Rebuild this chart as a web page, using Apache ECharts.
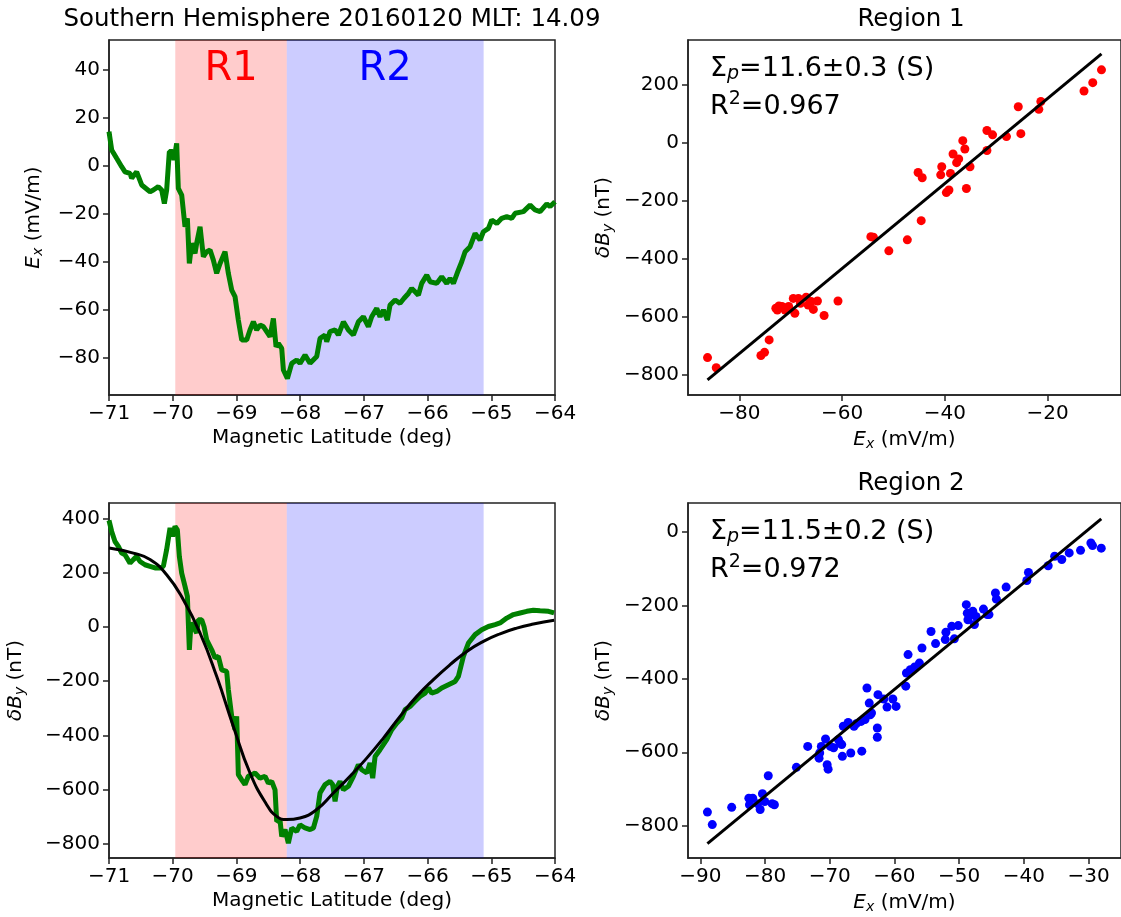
<!DOCTYPE html>
<html><head><meta charset="utf-8">
<script src="https://cdn.jsdelivr.net/npm/echarts@6/dist/echarts.min.js"></script>
<style>html,body{margin:0;padding:0;background:#fff}#c{width:1121px;height:917px}</style>
</head><body><div id="c"></div>
<script>
// ---------- data ----------
const regionBounds = [-69.96, -68.21, -65.12];
const regionNames = ['R1', 'R2'];

const exLat = [-71.000,-70.958,-70.880,-70.801,-70.749,-70.670,-70.644,-70.566,-70.487,-70.356,
-70.304,-70.226,-70.173,-70.131,-70.095,-70.053,-70.001,-69.980,-69.938,-69.912,
-69.859,-69.807,-69.770,-69.739,-69.702,-69.650,-69.624,-69.571,-69.519,-69.467,
-69.414,-69.362,-69.310,-69.257,-69.179,-69.127,-69.074,-69.022,-68.970,-68.917,
-68.839,-68.787,-68.734,-68.682,-68.630,-68.577,-68.525,-68.473,-68.420,-68.378,
-68.342,-68.289,-68.263,-68.200,-68.132,-68.054,-68.002,-67.923,-67.845,-67.740,
-67.688,-67.609,-67.583,-67.531,-67.452,-67.400,-67.321,-67.243,-67.164,-67.086,
-67.007,-66.929,-66.877,-66.798,-66.746,-66.693,-66.631,-66.589,-66.510,-66.432,
-66.369,-66.301,-66.249,-66.196,-66.144,-66.092,-66.013,-65.961,-65.856,-65.778,
-65.699,-65.647,-65.594,-65.516,-65.464,-65.411,-65.333,-65.254,-65.176,-65.124,
-65.045,-64.993,-64.914,-64.836,-64.757,-64.679,-64.626,-64.496,-64.391,-64.312,
-64.234,-64.129,-64.077,-64.000];
const exValues = [14.3,6.7,3.2,-0.3,-2.4,-3.1,-5.1,-2.4,-7.9,-10.7,
-10.0,-8.6,-10.0,-15.6,-10.0,6.0,6.0,2.5,9.4,-9.3,
-12.1,-25.3,-21.8,-40.6,-32.2,-36.4,-32.2,-25.3,-37.8,-35.7,
-35.0,-39.2,-44.7,-40.6,-35.7,-44.7,-51.7,-54.4,-64.2,-72.5,
-72.5,-68.3,-64.9,-68.3,-66.3,-66.9,-69.0,-71.1,-63.5,-75.3,
-73.9,-76.0,-85.0,-88.5,-82.2,-80.8,-82.2,-78.8,-82.2,-79.4,
-71.8,-70.4,-73.2,-69.0,-68.3,-70.4,-64.9,-68.3,-70.4,-64.9,
-62.8,-66.9,-62.8,-59.3,-62.8,-60.0,-64.2,-57.9,-55.8,-57.2,
-55.1,-53.1,-51.0,-52.4,-53.8,-48.9,-45.4,-48.2,-48.9,-46.1,
-48.9,-46.8,-48.9,-43.3,-39.9,-35.7,-33.6,-28.1,-30.8,-27.4,
-26.0,-22.5,-23.9,-21.8,-21.1,-21.8,-19.7,-19.0,-16.3,-18.3,
-19.0,-15.8,-16.9,-14.9];

const byLat = [-71.000,-70.958,-70.906,-70.853,-70.801,-70.749,-70.670,-70.618,-70.566,-70.513,
-70.435,-70.356,-70.278,-70.199,-70.147,-70.095,-70.042,-70.001,-69.964,-69.927,
-69.896,-69.859,-69.807,-69.770,-69.739,-69.713,-69.676,-69.624,-69.598,-69.545,
-69.509,-69.467,-69.388,-69.336,-69.284,-69.231,-69.153,-69.127,-69.074,-69.022,
-68.996,-68.970,-68.917,-68.865,-68.813,-68.760,-68.708,-68.630,-68.551,-68.499,
-68.446,-68.394,-68.368,-68.316,-68.289,-68.237,-68.185,-68.132,-68.054,-68.002,
-67.923,-67.845,-67.792,-67.740,-67.688,-67.609,-67.531,-67.489,-67.452,-67.415,
-67.374,-67.321,-67.243,-67.164,-67.086,-67.034,-66.955,-66.903,-66.861,-66.824,
-66.746,-66.641,-66.562,-66.484,-66.406,-66.353,-66.275,-66.196,-66.118,-66.039,
-65.987,-65.935,-65.856,-65.778,-65.673,-65.568,-65.516,-65.438,-65.359,-65.254,
-65.150,-65.045,-64.940,-64.862,-64.757,-64.653,-64.548,-64.443,-64.339,-64.234,
-64.103,-64.014];
const byValues = [394,353,316,298,273,267,236,249,261,242,
230,224,218,218,224,286,366,335,372,359,
261,199,150,113,-84,15,2,-22,27,27,
2,-47,-84,-114,-108,-158,-164,-231,-330,-379,
-330,-545,-564,-582,-551,-545,-539,-558,-551,-576,
-570,-601,-718,-712,-773,-748,-798,-742,-755,-730,
-742,-748,-742,-699,-613,-582,-570,-582,-644,-588,
-570,-601,-588,-551,-508,-527,-539,-502,-558,-478,
-453,-416,-379,-355,-336,-305,-293,-274,-256,-244,
-225,-244,-238,-225,-213,-201,-182,-108,-59,-28,
-10,2,9,15,33,46,52,58,62,60,
58,52];

const fitLat = [-71.000,-70.618,-70.356,-70.095,-69.833,-69.571,-69.310,-69.048,-68.787,-68.525,
-68.368,-68.211,-68.002,-67.740,-67.478,-67.217,-66.955,-66.693,-66.432,-66.170,
-65.908,-65.647,-65.385,-65.124,-64.862,-64.600,-64.339,-64.014];
const fitValues = [292,273,249,193,101,-22,-182,-367,-539,-656,
-699,-711,-705,-674,-613,-551,-484,-410,-330,-256,
-194,-139,-90,-53,-25,-4,11,25];

const r1Ex = [-86.2,-84.5,-75.8,-75.1,-74.2,-72.9,-72.3,-72.6,-71.7,-71.1,
-70.4,-69.5,-69.2,-68.5,-68.1,-67.0,-66.6,-66.0,-65.6,-64.8,
-63.5,-60.8,-54.4,-53.9,-50.9,-47.3,-44.6,-45.2,-44.4,-40.6,
-40.8,-39.7,-39.2,-38.9,-38.4,-37.7,-37.3,-36.5,-36.1,-35.8,
-35.1,-31.8,-30.7,-31.8,-28.0,-25.7,-25.2,-21.7,-21.3,-12.9,
-11.2,-9.5];
const r1By = [-740,-775,-733,-722,-679,-570,-562,-576,-564,-576,
-564,-536,-587,-536,-553,-532,-559,-547,-574,-545,
-595,-545,-323,-325,-372,-334,-268,-102,-120,-82,
-110,-171,-162,-105,-38,-68,-55,8,-21,-157,
-82,43,28,-26,22,125,32,116,143,179,
208,252];
const r1FitEx = [-86.2, -9.5];
const r1FitBy = [-817, 307];

const r2Ex = [-88.9,-88.15,-85.15,-82.5,-81.9,-82.4,-81.15,-80.75,-80.4,-80.05,
-79.5,-78.9,-78.55,-75.15,-73.4,-71.65,-71.55,-71.3,-70.65,-70.4,
-70.25,-69.9,-69.4,-68.65,-68.4,-68.15,-68.05,-67.9,-67.15,-66.75,
-66.25,-65.9,-65.15,-65.05,-64.55,-64.25,-63.9,-63.75,-63.55,-62.65,
-62.65,-62.55,-61.65,-61.15,-60.25,-59.75,-58.25,-58.15,-57.9,-57.55,
-56.9,-56.15,-55.75,-54.35,-53.65,-52.05,-52.15,-51.15,-50.75,-50.15,
-48.9,-48.75,-48.65,-48.15,-47.9,-47.65,-47.4,-46.25,-45.65,-45.4,
-44.4,-44.25,-42.75,-39.55,-39.3,-36.25,-35.25,-34.15,-33.0,-31.25,
-29.65,-29.4,-28.05];
const r2By = [-763,-797,-750,-725,-725,-743,-740,-756,-713,-734,
-664,-740,-743,-641,-584,-616,-602,-584,-564,-634,
-646,-584,-588,-566,-575,-579,-611,-529,-519,-602,
-529,-522,-516,-597,-511,-425,-466,-498,-493,-534,
-559,-443,-455,-477,-455,-475,-420,-384,-334,-375,
-368,-357,-316,-271,-304,-273,-293,-257,-291,-255,
-198,-221,-239,-225,-216,-252,-230,-210,-225,-225,
-166,-183,-150,-132,-110,-92,-66,-75,-57,-50,
-30,-37,-44];
const r2FitEx = [-88.9, -28.05];
const r2FitBy = [-849, 36];

const latTicks = [-71,-70,-69,-68,-67,-66,-65,-64];
const exTicks = [-80,-60,-40,-20,0,20,40];
const byTicks = [-800,-600,-400,-200,0,200,400];
const r1ExTicks = [-80,-60,-40,-20];
const r1ByTicks = [-800,-600,-400,-200,0,200];
const r2ExTicks = [-90,-80,-70,-60,-50,-40,-30];
const r2ByTicks = [-800,-600,-400,-200,0];

const titleMain = 'Southern Hemisphere 20160120 MLT: 14.09';
const titleR1 = 'Region 1';
const titleR2 = 'Region 2';
const r1Stats = ['11.6\u00b10.3 (S)', '0.967'];
const r2Stats = ['11.5\u00b10.2 (S)', '0.972'];

// ---------- chart ----------
const FONT = 'DejaVu Sans';
const FS = 20;
const zip = (a, b) => a.map((v, i) => [v, b[i]]);
const fmt = v => (v < 0 ? '\u2212' : '') + Math.abs(v);
const AX = '#222';

const nameRich = {
  i: {fontFamily: FONT, fontSize: FS, fontStyle: 'italic', color: '#000'},
  s: {fontFamily: FONT, fontSize: 14, fontStyle: 'italic', color: '#000', padding: [9, 0, 0, 0]},
  n: {fontFamily: FONT, fontSize: FS, color: '#000'}
};

function axis(gi, min, max, ticks, name, gap, pos) {
  return {
    type: 'value', gridIndex: gi, min: min, max: max, position: pos,
    axisLine: {show: true, onZero: false, lineStyle: {color: AX, width: 1.5}},
    axisTick: {show: true, length: 6, lineStyle: {color: AX, width: 1.5}, customValues: ticks},
    axisLabel: {show: true, customValues: ticks, formatter: fmt, fontSize: FS, color: '#000', fontFamily: FONT, margin: 9},
    splitLine: {show: false},
    name: name, nameLocation: 'middle', nameGap: gap,
    nameTextStyle: {fontFamily: FONT, fontSize: FS, color: '#000', rich: nameRich}
  };
}

const gridBase = {show: true, borderColor: AX, borderWidth: 1.5, width: 446, height: 355, containLabel: false};

const exName = '{i|E}{s|x}{n| (mV/m)}';
const byName = '{i|\u03b4B}{s|y}{n| (nT)}';
const latName = 'Magnetic Latitude (deg)';

function areas(withLabel) {
  const cols = ['rgba(255,0,0,0.2)', 'rgba(0,0,255,0.2)'];
  const tcols = ['#ff0000', '#0000ff'];
  return regionNames.map((n, i) => [
    {xAxis: regionBounds[i], name: n, itemStyle: {color: cols[i]},
     label: {show: withLabel, position: 'insideTop', distance: 10, formatter: n, fontSize: 40, fontFamily: FONT, color: tcols[i]}},
    {xAxis: regionBounds[i + 1]}
  ]);
}

const statRich = {
  m: {fontFamily: FONT, fontSize: 27, fill: '#000', color: '#000'},
  p: {fontFamily: FONT, fontSize: 19, fontStyle: 'italic', fill: '#000', color: '#000', padding: [11, 0, 0, 0]},
  sup: {fontFamily: FONT, fontSize: 19, fill: '#000', color: '#000', padding: [0, 0, 15, 0]}
};
function statText(x, y, stats) {
  return [
    {type: 'text', x: x, y: y, z: 100, style: {text: '{m|\u03a3}{p|p}{m|=' + stats[0] + '}', rich: statRich, verticalAlign: 'middle', align: 'left'}},
    {type: 'text', x: x, y: y + 38, z: 100, style: {text: '{m|R}{sup|2}{m|=' + stats[1] + '}', rich: statRich, verticalAlign: 'middle', align: 'left'}}
  ];
}
function titleText(x, y, t) {
  return {type: 'text', x: x, y: y, z: 100, style: {text: t, fontFamily: FONT, fontSize: 24.5, fill: '#000', align: 'center', verticalAlign: 'middle'}};
}

const option = {
  backgroundColor: '#fff',
  animation: false,
  grid: [
    Object.assign({left: 109, top: 40}, gridBase),
    Object.assign({left: 109, top: 503}, gridBase),
    Object.assign({left: 688, top: 40}, gridBase),
    Object.assign({left: 688, top: 503}, gridBase)
  ],
  xAxis: [
    axis(0, -71, -64, latTicks, latName, 33, 'bottom'),
    axis(1, -71, -64, latTicks, latName, 33, 'bottom'),
    axis(2, -90, -5.7, r1ExTicks, exName, 33, 'bottom'),
    axis(3, -91.9, -25.0, r2ExTicks, exName, 33, 'bottom')
  ],
  yAxis: [
    axis(0, -95.4, 52.5, exTicks, exName, 64, 'left'),
    axis(1, -852.8, 458, byTicks, byName, 82, 'left'),
    axis(2, -869, 355, r1ByTicks, byName, 73, 'left'),
    axis(3, -888, 79, r2ByTicks, byName, 73, 'left')
  ],
  series: [
    {type: 'line', xAxisIndex: 0, yAxisIndex: 0, data: zip(exLat, exValues), showSymbol: false,
     lineStyle: {color: '#008000', width: 5}, z: 3,
     markArea: {silent: true, data: areas(true)}},
    {type: 'line', xAxisIndex: 1, yAxisIndex: 1, data: zip(byLat, byValues), showSymbol: false,
     lineStyle: {color: '#008000', width: 5}, z: 3,
     markArea: {silent: true, data: areas(false)}},
    {type: 'line', xAxisIndex: 1, yAxisIndex: 1, data: zip(fitLat, fitValues), showSymbol: false, smooth: true,
     lineStyle: {color: '#000', width: 3}, z: 4},
    {type: 'scatter', xAxisIndex: 2, yAxisIndex: 2, data: zip(r1Ex, r1By), symbolSize: 9,
     itemStyle: {color: '#ff0000', opacity: 1}, z: 3},
    {type: 'line', xAxisIndex: 2, yAxisIndex: 2, data: zip(r1FitEx, r1FitBy), showSymbol: false,
     lineStyle: {color: '#000', width: 3}, z: 4},
    {type: 'scatter', xAxisIndex: 3, yAxisIndex: 3, data: zip(r2Ex, r2By), symbolSize: 9,
     itemStyle: {color: '#0000ff', opacity: 1}, z: 3},
    {type: 'line', xAxisIndex: 3, yAxisIndex: 3, data: zip(r2FitEx, r2FitBy), showSymbol: false,
     lineStyle: {color: '#000', width: 3}, z: 4}
  ],
  graphic: [
    titleText(332, 20, titleMain),
    titleText(911, 20, titleR1),
    titleText(911, 484, titleR2)
  ].concat(statText(710, 69, r1Stats)).concat(statText(710, 532, r2Stats))
};

const chart = echarts.init(document.getElementById('c'), null, {renderer: 'canvas'});
chart.setOption(option);
</script>
</body></html>
